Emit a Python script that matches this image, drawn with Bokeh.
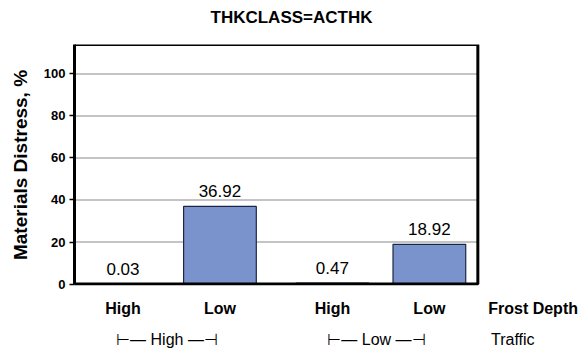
from bokeh.plotting import figure
from bokeh.models import Range1d, FixedTicker, LinearAxis, BoxAnnotation, ColumnDataSource, Title
from bokeh.embed import file_html
from bokeh.resources import INLINE
from bokeh.core.properties import value

# ---- data ----
traffic_groups = ["High", "Low"]
frost_depth = ["High", "Low", "High", "Low"]          # inner factor, per bar
bar_group = [0, 0, 1, 1]                              # traffic group index of each bar
distress = [0.03, 36.92, 0.47, 18.92]
value_labels = ["0.03", "36.92", "0.47", "18.92"]
y_ticks = [0, 20, 40, 60, 80, 100]
row_captions = ["Frost Depth", "Traffic"]

FONT = "Liberation Sans"
W, H = 584, 352
GAP = 0.16                 # extra space between traffic groups (in bar slots)
Y_MAX = 114
n_in_group = 2
BOX_R = len(traffic_groups) * n_in_group + (len(traffic_groups) - 1) * GAP
X_END = BOX_R + 1.1        # room on the right for the row captions
CAP_FD, CAP_TR = BOX_R + 0.57, BOX_R + 0.36

# bar positions from the grouped structure
xpos = []
for i, g in enumerate(bar_group):
    j = i - g * n_in_group
    xpos.append(g * (n_in_group + GAP) + j + 0.5)
gpos = [g * (n_in_group + GAP) + n_in_group / 2 for g in range(len(traffic_groups))]

src = ColumnDataSource(dict(x=xpos, top=distress, lab=value_labels))

p = figure(width=W, height=H, output_backend="svg", toolbar_location=None,
           x_range=Range1d(0, X_END), y_range=Range1d(-0.7, Y_MAX),
           min_border_left=74, min_border_right=0, min_border_top=44, min_border_bottom=H - 285)

p.title.text = "THKCLASS=ACTHK"
p.title.align = "left"
p.title.offset = 136
p.title.vertical_align = "bottom"
p.title.standoff = 2
p.title.text_font = FONT
p.title.text_font_size = "17px"
p.title.text_font_style = "bold"
p.title.text_color = "black"

# empty spacer between the title and the plot box
p.add_layout(Title(text=" ", text_font_size="10px", standoff=4), "above")

p.outline_line_color = None
p.xgrid.visible = False
p.ygrid.visible = False

# grid lines (only across the plot box)
gy = y_ticks[1:]
p.segment(x0=[0] * len(gy), x1=[BOX_R] * len(gy), y0=gy, y1=gy, line_color="#b0b0b0", line_width=1.5)

# bars
p.vbar(x="x", top="top", width=0.75, bottom=0, source=src,
       fill_color="#7b93cc", line_color="#1c2642", line_width=1.2)
p.text(x="x", y="top", text="lab", source=src, text_align="center", text_baseline="bottom",
       y_offset=-9, text_font=value(FONT), text_font_size="17px", text_color="black")

# plot box
p.add_layout(BoxAnnotation(left=0, right=BOX_R, bottom=0, top=Y_MAX, fill_color=None,
                           line_color="black", line_width=3, line_alpha=1))

# y axis
ya = p.yaxis[0]
ya.ticker = FixedTicker(ticks=y_ticks)
ya.bounds = (0, Y_MAX)
ya.axis_label = "Materials Distress, %"
ya.axis_label_text_font = FONT
ya.axis_label_text_font_size = "19px"
ya.axis_label_text_font_style = "bold"
ya.axis_label_text_color = "black"
ya.axis_label_standoff = 10
ya.major_label_text_font = FONT
ya.major_label_text_font_size = "13px"
ya.major_label_text_font_style = "bold"
ya.major_label_text_color = "black"
ya.major_label_standoff = 4
ya.axis_line_color = "black"
ya.axis_line_width = 3
ya.major_tick_line_color = "black"
ya.major_tick_line_width = 1.5
ya.major_tick_out = 5
ya.major_tick_in = 0
ya.minor_tick_line_color = None

# x axis (frost depth categories + caption)
xa = p.xaxis[0]
xa.ticker = FixedTicker(ticks=xpos + [CAP_FD])
ov = {x: lab for x, lab in zip(xpos, frost_depth)}
ov[CAP_FD] = row_captions[0]
xa.major_label_overrides = ov
xa.major_label_text_font = FONT
xa.major_label_text_font_size = "16px"
xa.major_label_text_font_style = "bold"
xa.major_label_text_color = "black"
xa.major_label_standoff = 14
xa.axis_line_color = None
xa.major_tick_out = 0
xa.major_tick_in = 0
xa.major_tick_line_color = None
xa.minor_tick_line_color = None

# second axis (traffic groups + caption)
tov = {x: "\u22a2\u2014  " + g + "  \u2014\u22a3" for x, g in zip(gpos, traffic_groups)}
tov[CAP_TR] = row_captions[1]
ta = LinearAxis(ticker=FixedTicker(ticks=gpos + [CAP_TR]), major_label_overrides=tov)
ta.major_label_text_font = FONT
ta.major_label_text_font_size = "16px"
ta.major_label_text_color = "black"
ta.major_label_standoff = 11
ta.major_tick_out = 0
ta.major_tick_in = 0
ta.axis_line_color = None
ta.major_tick_line_color = None
ta.minor_tick_line_color = None
p.add_layout(ta, "below")

open("out.html", "w").write(file_html(p, INLINE))
